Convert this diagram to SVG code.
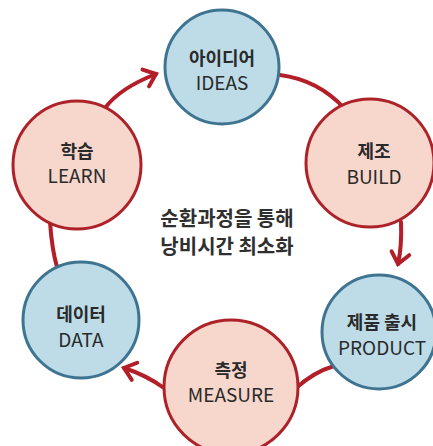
<svg xmlns="http://www.w3.org/2000/svg" width="433" height="446" viewBox="0 0 433 446">
<defs>
<style>
.blue{fill:#bddce8;stroke:#3f7491;stroke-width:3}
.pink{fill:#f7d6cc;stroke:#ad2229;stroke-width:3}
.conn{fill:none;stroke:#b31f28;stroke-width:4;stroke-linecap:round}
.ko{font-family:"Noto Sans CJK KR","Noto Sans",sans-serif;font-weight:700;font-size:18px;fill:#2a2a2a;text-anchor:middle}
.en{font-family:"Noto Sans CJK KR","Noto Sans",sans-serif;font-weight:400;font-size:19px;fill:#2a2a2a;text-anchor:middle}
.mid{font-family:"Noto Sans CJK KR","Noto Sans",sans-serif;font-weight:700;font-size:20px;fill:#2f2f2f;text-anchor:middle}
</style>
<marker id="chev" markerUnits="userSpaceOnUse" viewBox="-16 -16 32 32" markerWidth="32" markerHeight="32" refX="0" refY="0" orient="auto" overflow="visible">
<path d="M-11,-9 L0,0 L-11,9" fill="none" stroke="#b31f28" stroke-width="4" stroke-linejoin="miter" stroke-linecap="round"/>
</marker>
</defs>
<rect width="433" height="446" fill="#ffffff"/>
<g id="connectors">
<path class="conn" d="M105,108 Q120,88 156,74" marker-end="url(#chev)"/>
<path class="conn" d="M280,75 Q318,80 344,108"/>
<path class="conn" d="M401,222 Q402,246 398,264" marker-end="url(#chev)"/>
<path class="conn" d="M334,366 Q314,372 296,388"/>
<path class="conn" d="M164,388 Q146,375 124,368" marker-end="url(#chev)"/>
<path class="conn" d="M50,222 Q52,250 57,267"/>
</g>
<g id="ideas">
<circle class="blue" cx="222" cy="67" r="57"/>
<text class="ko" x="222" y="65">아이디어</text>
<text class="en" x="222" y="90">IDEAS</text>
</g>
<g id="build">
<circle class="pink" cx="370" cy="163" r="64"/>
<text class="ko" x="374" y="158">제조</text>
<text class="en" x="374" y="184">BUILD</text>
</g>
<g id="product">
<circle class="blue" cx="379" cy="332" r="57"/>
<text class="ko" x="382" y="329">제품 출시</text>
<text class="en" x="382" y="355">PRODUCT</text>
</g>
<g id="measure">
<circle class="pink" cx="231" cy="387" r="67"/>
<text class="ko" x="231" y="377">측정</text>
<text class="en" x="231" y="402">MEASURE</text>
</g>
<g id="data">
<circle class="blue" cx="81" cy="320" r="58"/>
<text class="ko" x="81" y="321">데이터</text>
<text class="en" x="81" y="347">DATA</text>
</g>
<g id="learn">
<circle class="pink" cx="77" cy="165" r="64"/>
<text class="ko" x="77" y="158">학습</text>
<text class="en" x="77" y="183">LEARN</text>
</g>
<g id="center">
<text class="mid" x="227" y="226">순환과정을 통해</text>
<text class="mid" x="227" y="254">낭비시간 최소화</text>
</g>
</svg>
